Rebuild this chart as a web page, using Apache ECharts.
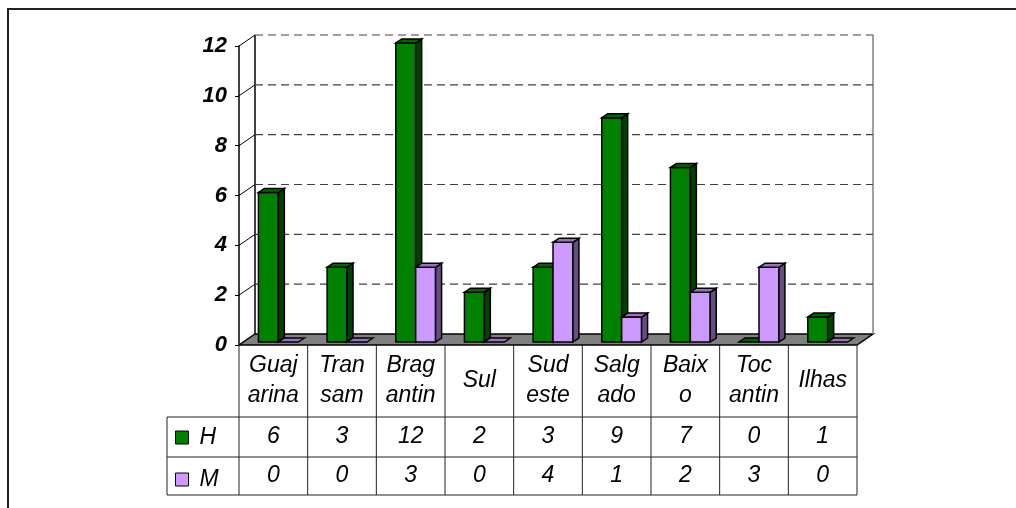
<!DOCTYPE html>
<html lang="pt">
<head>
    <meta charset="UTF-8">
    <script src="https://cdn.jsdelivr.net/npm/echarts@6/dist/echarts.min.js"></script>
    <title>H / M por região</title>
    <style>
        html, body { margin: 0; padding: 0; background: #fff; }
    </style>
</head>
<body>
<div id="main" style="width: 1016px;height:508px;"></div>
<script type="text/javascript">
    // dados do gráfico
    var categories = ['Guaj\narina', 'Tran\nsam', 'Brag\nantin', 'Sul', 'Sud\neste', 'Salg\nado', 'Baix\no', 'Toc\nantin', 'Ilhas'];
    var hValues = [6, 3, 12, 2, 3, 9, 7, 0, 1];
    var mValues = [0, 0, 3, 0, 4, 1, 2, 3, 0];
    var yTicks = [0, 2, 4, 6, 8, 10, 12];

    var FONT = 'Arial, "Liberation Sans", sans-serif';
    var DX = 16, DY = -11;   // profundidade da parede do fundo
    var LEGEND_LEFT = 167;

    function line(p1, p2, style) {
        return {type: 'line', shape: {x1: p1[0], y1: p1[1], x2: p2[0], y2: p2[1]}, style: style};
    }

    // parede, chão e linhas da tabela
    function renderWalls(params, api) {
        var cs = params.coordSys;
        var x0 = cs.x, x1 = cs.x + cs.width, yb = cs.y + cs.height;
        var bw = cs.width / categories.length;
        var yTop = api.coord([0, yTicks[yTicks.length - 1]])[1];
        var kids = [];
        kids.push({
            type: 'polygon',
            shape: {points: [[x0, yb], [x1, yb], [x1 + DX, yb + DY], [x0 + DX, yb + DY]]},
            style: {fill: '#808080', stroke: '#000', lineWidth: 1.5}
        });
        kids.push(line([x0 + DX, yTop + DY], [x0 + DX, yb + DY], {stroke: '#000', lineWidth: 1.5}));
        kids.push(line([x1 + DX, yTop + DY], [x1 + DX, yb + DY], {stroke: '#808080', lineWidth: 1.5}));
        for (var k = 1; k < yTicks.length; k++) {
            var y = api.coord([0, yTicks[k]])[1];
            kids.push(line([x0 + DX, y + DY], [x1 + DX, y + DY], {stroke: '#404040', lineWidth: 1.2, lineDash: [8, 5]}));
            kids.push(line([x0, y], [x0 + DX, y + DY], {stroke: '#000', lineWidth: 1}));
        }
        // tabela de dados
        var tStyle = {stroke: '#222', lineWidth: 1};
        for (var c = 0; c <= categories.length; c++) {
            kids.push(line([x0 + c * bw, yb], [x0 + c * bw, yb + 150], tStyle));
        }
        [72, 112, 150].forEach(function (d) {
            kids.push(line([LEGEND_LEFT, yb + d], [x1, yb + d], tStyle));
        });
        kids.push(line([LEGEND_LEFT, yb + 72], [LEGEND_LEFT, yb + 150], tStyle));
        return {type: 'group', children: kids};
    }

    function makeBarRenderer(side, colors, rowOffset) {
        return function (params, api) {
            var i = api.value(0), v = api.value(1);
            var band = api.size([1, 0])[0];
            var base = api.coord([i, 0]);
            var top = api.coord([i, v]);
            var w = band * 0.29, off = band * 0.073;
            var sx = 6, sy = -4;
            var xa = side === 0 ? base[0] + off - w : base[0] + off;
            var xb = xa + w;
            var bot = base[1] - 3, ty = top[1] - 3;
            var stroke = {stroke: '#000', lineWidth: 1.5};
            var kids = [];
            if (v > 0) {
                kids.push({type: 'rect', shape: {x: xa, y: ty, width: w, height: bot - ty},
                    style: Object.assign({fill: colors[0]}, stroke)});
                kids.push({type: 'polygon', shape: {points: [[xb, bot], [xb + sx, bot + sy], [xb + sx, ty + sy], [xb, ty]]},
                    style: Object.assign({fill: colors[1]}, stroke)});
            }
            kids.push({type: 'polygon', shape: {points: [[xa, ty], [xb, ty], [xb + sx, ty + sy], [xa + sx, ty + sy]]},
                style: Object.assign({fill: colors[2]}, stroke)});
            // valor na tabela
            kids.push({type: 'text', x: base[0], y: base[1] + rowOffset,
                style: {text: String(v), fill: '#000', font: 'italic 23px ' + FONT, align: 'center', verticalAlign: 'middle'}});
            return {type: 'group', children: kids};
        };
    }

    var myChart = echarts.init(document.getElementById('main'));

    var legendText = {fontSize: 23, fontStyle: 'italic', fontFamily: FONT, color: '#000', padding: [0, 0, 0, 6]};

    var option = {
        animation: false,
        backgroundColor: '#fff',
        grid: {left: 239, right: 159, top: 46, bottom: 163},
        legend: [
            {data: ['H'], left: 175, top: 426, padding: 0, selectedMode: false, icon: 'rect', itemWidth: 13, itemHeight: 13,
                itemStyle: {borderColor: '#000', borderWidth: 1}, textStyle: legendText},
            {data: ['M'], left: 175, top: 468, padding: 0, selectedMode: false, icon: 'rect', itemWidth: 13, itemHeight: 13,
                itemStyle: {borderColor: '#000', borderWidth: 1}, textStyle: legendText}
        ],
        xAxis: {
            type: 'category',
            data: categories,
            axisLine: {show: false},
            axisTick: {show: false},
            axisLabel: {
                interval: 0, margin: 36, verticalAlign: 'middle', lineHeight: 30,
                fontSize: 23, fontStyle: 'italic', fontFamily: FONT, color: '#000'
            }
        },
        yAxis: {
            type: 'value',
            min: 0, max: 12, interval: 2,
            axisLine: {show: true, lineStyle: {color: '#000', width: 1.5}},
            axisTick: {show: true, length: 4, lineStyle: {color: '#000'}},
            splitLine: {show: false},
            axisLabel: {margin: 12, fontSize: 22, fontWeight: 'bold', fontStyle: 'italic', fontFamily: FONT, color: '#000'}
        },
        graphic: [{
            type: 'polyline', silent: true,
            shape: {points: [[8, 508], [8, 9], [1016, 9]]},
            style: {stroke: '#222', lineWidth: 2, fill: null}
        }],
        series: [
            {name: 'walls', type: 'custom', z: 1, silent: true, data: [[0, 0]], renderItem: renderWalls},
            {name: 'H', type: 'custom', z: 2, data: hValues.map(function (v, i) { return [i, v]; }),
                itemStyle: {color: '#008000', borderColor: '#000', borderWidth: 1},
                renderItem: makeBarRenderer(0, ['#008000', '#004000', '#006600'], 92)},
            {name: 'M', type: 'custom', z: 3, data: mValues.map(function (v, i) { return [i, v]; }),
                itemStyle: {color: '#CC99FF', borderColor: '#000', borderWidth: 1},
                renderItem: makeBarRenderer(1, ['#CC99FF', '#664D80', '#9973BF'], 131)}
        ]
    };

    myChart.setOption(option);
</script>
</body>
</html>
